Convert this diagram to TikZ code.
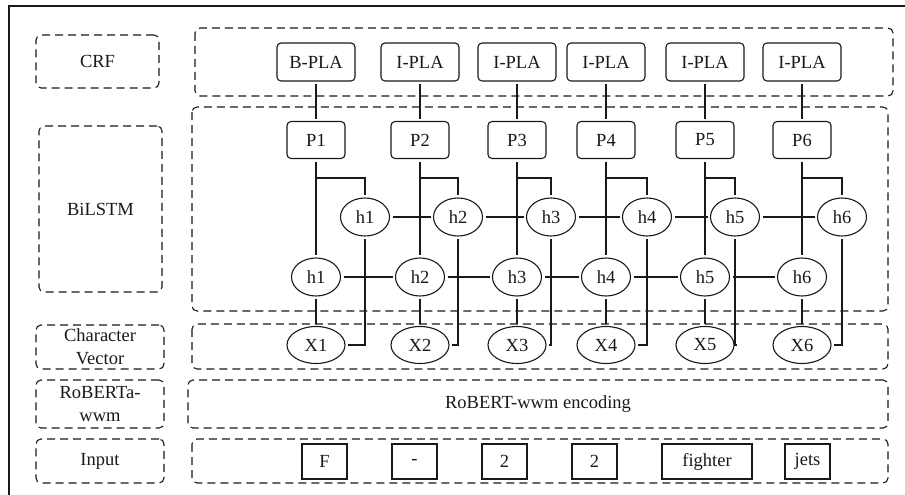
\documentclass[tikz,border=0pt]{standalone}
\usepackage{fontspec}
\setmainfont{Liberation Serif}
\usetikzlibrary{shapes.geometric,positioning}

\tikzset{
  dashbox/.style={draw,dash pattern=on 8pt off 5pt,rounded corners=5pt,align=center},
  tagbox/.style={draw,rounded corners=4pt,minimum width=78,minimum height=38,outer sep=3pt},
  pbox/.style={draw,rounded corners=4pt,minimum width=58,minimum height=37,outer sep=3pt},
  hid/.style={draw,ellipse,minimum width=49,minimum height=38,inner sep=1pt,outer sep=3pt},
  xvec/.style={draw,ellipse,minimum width=58,minimum height=37,inner sep=1pt,outer sep=3pt},
  tok/.style={draw,minimum height=35,inner sep=2pt}
}

\begin{document}
\begin{tikzpicture}[x=1pt,y=-1pt,line width=1.1pt,color=black!90,font=\fontsize{18.5}{23}\selectfont]
\clip (0,0) rectangle (905,495);
\draw[line width=1.3pt] (9,6) rectangle (920,510);

% layer names
\node[dashbox,minimum width=123,minimum height=53] (lcrf) at (97.5,61.5) {CRF};
\node[dashbox,minimum width=123,minimum height=166] (llstm) at (100.5,209) {BiLSTM};
\node[dashbox,minimum width=128,minimum height=44,inner sep=0pt] (lvec) at (100,347) {Character\\Vector};
\node[dashbox,minimum width=128,minimum height=48,inner sep=0pt] (lenc) at (100,404) {RoBERTa-\\wwm};
\node[dashbox,minimum width=128,minimum height=44] (lin) at (100,461) {Input};

% layer frames
\draw[dashbox] (195,28) rectangle (893,96);
\draw[dashbox] (192,107) rectangle (888,311);
\draw[dashbox] (192,324) rectangle (888,369);
\node[dashbox,minimum width=700,minimum height=48] (enc) at (538,404) {RoBERT-wwm encoding};
\draw[dashbox] (192,439) rectangle (888,483);

% one column per character
\foreach \cx/\ux/\lab [count=\i] in {316/365/B-PLA,420/458/I-PLA,517/551/I-PLA,606/647/I-PLA,705/735/I-PLA,802/842/I-PLA}{
  \node[tagbox] (t\i) at (\cx,62) {\lab};
  \node[pbox] (p\i) at (\cx,140) {P\i};
  \node[hid] (uh\i) at (\ux,217) {h\i};
  \node[hid] (lh\i) at (\cx,277) {h\i};
  \node[xvec] (x\i) at (\cx,345) {X\i};
  \coordinate (br\i) at (\cx,178);
}

\foreach \i in {1,...,6}{
  \draw (t\i.south) -- (p\i.north);
  \draw (p\i.south) -- (lh\i.north);
  \draw (br\i) -| (uh\i.north);
  \draw (lh\i.south) -- (x\i.north);
  \draw (uh\i.south) |- (x\i.east);
}
\foreach \i [evaluate=\i as \j using int(\i+1)] in {1,...,5}{
  \draw (uh\i.east) -- (uh\j.west);
  \draw (lh\i.east) -- (lh\j.west);
}

% input tokens
\foreach \wx/\tx/\bw [count=\k] in {324.5/F/45,414.5/-/45,504.5/2/45,594.5/2/45,707/fighter/90,807.5/jets/45}
  \node[tok,minimum width=\bw] (w\k) at (\wx,461.5) {\tx};
\end{tikzpicture}
\end{document}
